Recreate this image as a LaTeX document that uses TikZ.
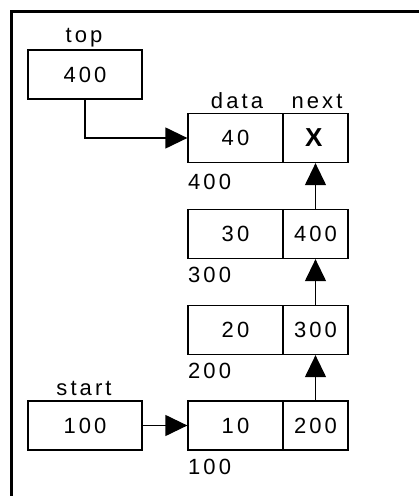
\documentclass[tikz,border=0pt]{standalone}
\usepackage{fontspec}
\setmainfont{Liberation Sans}[LetterSpace=14]
\usetikzlibrary{arrows.meta}

\tikzset{
  cell/.style={draw,line width=1.3pt,minimum height=49pt,inner sep=0pt,font=\fontsize{22}{25}\selectfont},
  datacell/.style={cell,minimum width=95pt},
  nextcell/.style={cell,minimum width=65pt},
  varbox/.style={cell,minimum width=114pt},
  lbl/.style={inner sep=0pt,font=\fontsize{22}{25}\selectfont},
  ptr/.style={-{Triangle[length=22pt,width=21pt]},line width=1.3pt}
}

\begin{document}
\begin{tikzpicture}[x=1pt,y=1pt]
\useasboundingbox (0,0) rectangle (419,496);

% frame
\draw[line width=3pt] (11,0) -- (11,484) -- (419,484);

% variables
\node[varbox] (top) at (85,421.5) {400};
\node[lbl] (toplbl) at (84,458) {top};
\node[varbox] (start) at (85,70.5) {100};
\node[lbl] (startlbl) at (84,108) {start};

% list nodes
\node[datacell] (D4) at (235.5,358) {40};
\node[nextcell] (N4) at (315.5,358) {\fontsize{26}{28}\selectfont\textbf{X}};
\node[datacell] (D3) at (235.5,262) {30};
\node[nextcell] (N3) at (315.5,262) {400};
\node[datacell] (D2) at (235.5,166) {20};
\node[nextcell] (N2) at (315.5,166) {300};
\node[datacell] (D1) at (235.5,70.5) {10};
\node[nextcell] (N1) at (315.5,70.5) {200};

\node[lbl] (datalbl) at (237,395) {data};
\node[lbl] (nextlbl) at (317,395) {next};

% addresses
\node[lbl,anchor=west] (A4) at (188,314) {400};
\node[lbl,anchor=west] (A3) at (188,221) {300};
\node[lbl,anchor=west] (A2) at (188,125) {200};
\node[lbl,anchor=west] (A1) at (188,29) {100};

% pointers
\draw[ptr] (top.south) |- (D4.west);
\draw[ptr] (start.east) -- (D1.west);
\draw[ptr] (N1.north) -- (N2.south);
\draw[ptr] (N2.north) -- (N3.south);
\draw[ptr] (N3.north) -- (N4.south);

\end{tikzpicture}
\end{document}
